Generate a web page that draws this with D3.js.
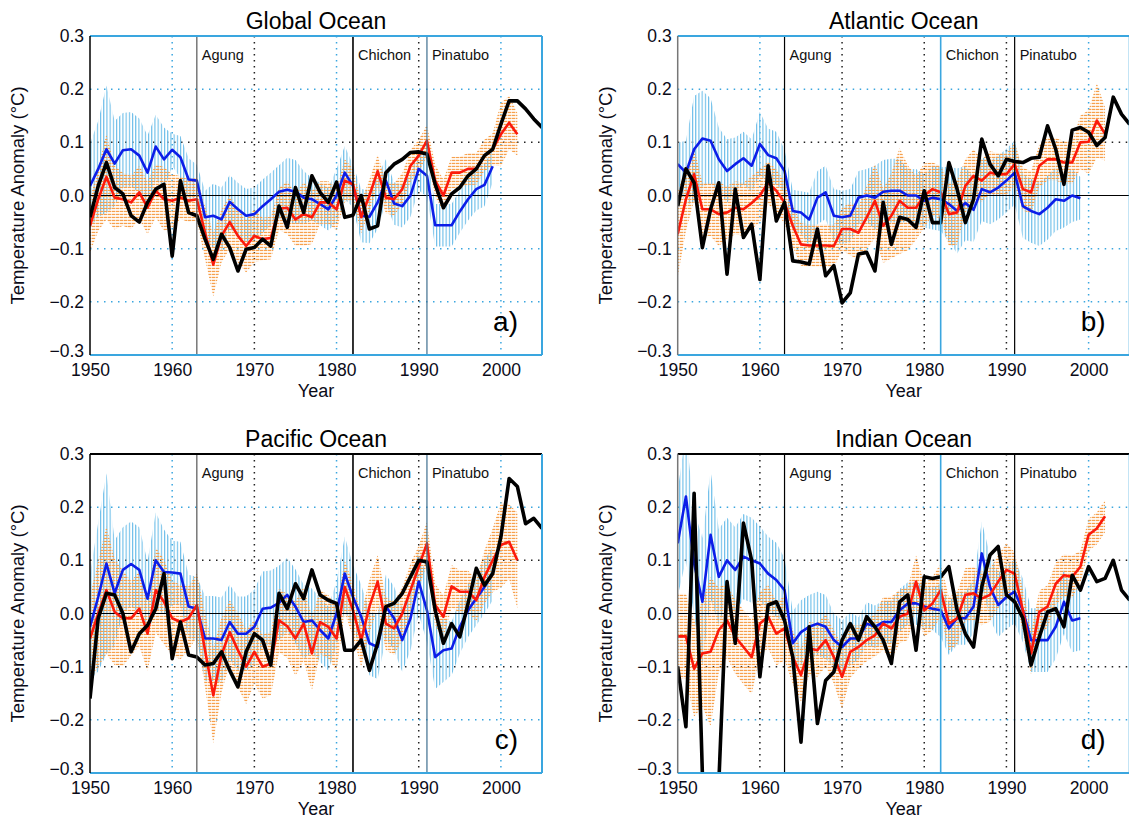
<!DOCTYPE html>
<html><head><meta charset="utf-8">
<script src="https://cdn.jsdelivr.net/npm/d3@7"></script>
<style>
body{margin:0;background:#fff}
svg{display:block}
text{font-family:"Liberation Sans",Arial,Helvetica,sans-serif}
</style>
</head><body>
<svg id="chart" width="1129" height="818"></svg>
<script>
// ---------------- DATA ----------------
const firstYear = 1950;
const xTicks = [1950, 1960, 1970, 1980, 1990, 2000];
const yTicks = [-0.3, -0.2, -0.1, 0, 0.1, 0.2, 0.3];
const yTickLabels = ["\u22120.3", "\u22120.2", "\u22120.1", "0.0", "0.1", "0.2", "0.3"];
const gridYears = [1960, 1970, 1980, 1990, 2000];
const gridValues = [-0.2, -0.1, 0.1, 0.2];
const volcanoNames = ["Agung", "Chichon", "Pinatubo"];
const volcanoYears = [1963, 1982, 1991];
const panelTitles = ["Global Ocean", "Atlantic Ocean", "Pacific Ocean", "Indian Ocean"];
const panelLetters = ["a)", "b)", "c)", "d)"];

// Global (1950-1999 blue, 1950-2002 red, 1950-2005 black)
const globalBlue = [0.018,0.05,0.087,0.06,0.085,0.087,0.075,0.043,0.092,0.068,
 0.086,0.072,0.03,0.028,-0.041,-0.038,-0.045,-0.012,-0.026,-0.038,
 -0.035,-0.02,-0.007,0.007,0.011,0.007,-0.004,-0.007,-0.016,-0.026,
 0.0,0.043,0.018,-0.038,-0.04,-0.013,0.028,-0.015,-0.02,0.0,
 0.05,0.037,-0.056,-0.056,-0.056,-0.03,-0.007,0.012,0.02,0.055];
const globalBlueErr = [0.08,0.09,0.12,0.08,0.07,0.07,0.07,0.07,0.06,0.06,
 0.03,0.04,0.04,0.03,0.05,0.06,0.06,0.05,0.05,0.05,
 0.05,0.05,0.05,0.05,0.06,0.06,0.05,0.04,0.04,0.04,
 0.05,0.05,0.04,0.05,0.05,0.05,0.04,0.04,0.04,0.04,
 0.04,0.04,0.04,0.04,0.04,0.04,0.04,0.04,0.04,0.03];
const globalRed = [-0.057,-0.007,0.035,-0.004,-0.007,-0.013,0.006,-0.023,0.009,-0.007,
 -0.01,-0.004,-0.01,-0.007,-0.07,-0.13,-0.076,-0.05,-0.076,-0.095,
 -0.076,-0.082,-0.08,-0.025,-0.023,-0.045,-0.035,-0.041,-0.013,-0.013,
 -0.026,0.028,0.021,-0.041,0.0,0.046,-0.004,-0.007,0.012,0.056,
 0.075,0.103,0.028,0.0,0.043,0.043,0.05,0.05,0.075,0.087,
 0.115,0.137,0.115];
const globalRedErr = [0.05,0.06,0.08,0.06,0.05,0.05,0.05,0.05,0.05,0.06,
 0.05,0.04,0.04,0.04,0.05,0.06,0.05,0.05,0.05,0.05,
 0.05,0.04,0.04,0.04,0.05,0.05,0.06,0.05,0.04,0.04,
 0.04,0.04,0.03,0.03,0.03,0.03,0.03,0.03,0.03,0.03,
 0.03,0.03,0.03,0.03,0.03,0.03,0.03,0.03,0.03,0.03,
 0.06,0.05,0.04];
const globalBlack = [-0.041,0.018,0.062,0.015,0.003,-0.038,-0.05,-0.013,0.012,0.021,
 -0.114,0.028,-0.032,-0.038,-0.082,-0.12,-0.073,-0.098,-0.142,-0.101,
 -0.098,-0.082,-0.095,-0.02,-0.06,0.015,-0.032,0.037,0.006,-0.013,
 0.025,-0.041,-0.037,0.0,-0.063,-0.057,0.043,0.059,0.068,0.081,
 0.082,0.078,0.021,-0.023,0.003,0.015,0.037,0.05,0.075,0.087,
 0.134,0.178,0.178,0.163,0.144,0.128];

// Atlantic
const atlanticBlue = [0.059,0.043,0.087,0.107,0.103,0.068,0.046,0.059,0.07,0.056,
 0.097,0.076,0.07,0.046,-0.029,-0.032,-0.045,-0.004,0.006,-0.038,
 -0.041,-0.038,-0.004,0.0,-0.004,0.007,0.009,0.009,0.0,0.0,
 -0.01,-0.004,-0.007,-0.016,-0.029,-0.014,-0.027,0.012,0.006,0.015,
 0.028,0.043,-0.02,-0.029,-0.035,-0.023,-0.007,-0.01,0.0,-0.005];
const atlanticBlueErr = [0.04,0.06,0.1,0.09,0.08,0.06,0.06,0.05,0.05,0.05,
 0.06,0.05,0.05,0.04,0.04,0.04,0.05,0.05,0.05,0.05,
 0.05,0.05,0.05,0.05,0.06,0.06,0.06,0.06,0.05,0.05,
 0.05,0.06,0.06,0.07,0.08,0.07,0.06,0.06,0.06,0.06,
 0.06,0.06,0.06,0.06,0.06,0.06,0.06,0.05,0.05,0.04];
const atlanticRed = [-0.073,-0.007,0.04,-0.026,-0.026,-0.035,-0.032,-0.023,-0.026,-0.014,
 0.0,0.024,0.009,-0.013,-0.057,-0.092,-0.094,-0.094,-0.094,-0.095,
 -0.063,-0.063,-0.07,-0.041,-0.01,-0.057,-0.038,-0.01,-0.023,-0.023,
 0.0,0.012,0.006,-0.035,-0.032,0.018,0.037,0.028,0.043,0.04,
 0.04,0.059,0.012,0.006,0.056,0.068,0.068,0.062,0.062,0.1,
 0.101,0.141,0.116];
const atlanticRedErr = [0.08,0.06,0.05,0.05,0.05,0.06,0.05,0.05,0.05,0.05,
 0.05,0.04,0.04,0.04,0.04,0.04,0.04,0.04,0.04,0.04,
 0.04,0.05,0.05,0.06,0.07,0.07,0.08,0.1,0.08,0.06,
 0.06,0.05,0.05,0.06,0.06,0.05,0.05,0.04,0.04,0.04,
 0.04,0.04,0.04,0.04,0.04,0.04,0.04,0.04,0.04,0.05,
 0.06,0.07,0.05];
const atlanticBlack = [-0.02,0.05,0.024,-0.098,-0.026,0.024,-0.148,0.012,-0.079,-0.054,
 -0.158,0.056,-0.048,-0.013,-0.123,-0.125,-0.129,-0.063,-0.151,-0.132,
 -0.202,-0.183,-0.11,-0.107,-0.142,-0.013,-0.092,-0.041,-0.045,-0.06,
 0.009,-0.051,-0.051,0.062,0.012,-0.051,-0.007,0.106,0.059,0.037,
 0.068,0.064,0.062,0.07,0.072,0.131,0.087,0.021,0.123,0.128,
 0.119,0.094,0.109,0.185,0.153,0.134];

// Pacific
const pacificBlue = [-0.025,0.031,0.094,0.038,0.082,0.093,0.082,0.028,0.1,0.078,
 0.077,0.075,0.013,0.009,-0.047,-0.047,-0.05,-0.016,-0.038,-0.038,
 -0.025,0.009,0.011,0.02,0.035,0.013,-0.016,-0.013,-0.031,-0.047,
 0.0,0.075,0.031,-0.006,-0.056,-0.063,0.013,-0.009,-0.05,-0.009,
 0.06,0.006,-0.082,-0.069,-0.066,-0.025,0.006,0.028,0.05,0.075];
const pacificBlueErr = [0.1,0.14,0.17,0.1,0.08,0.08,0.08,0.07,0.09,0.08,
 0.06,0.06,0.06,0.06,0.08,0.08,0.08,0.07,0.07,0.07,
 0.07,0.07,0.07,0.07,0.07,0.07,0.07,0.06,0.06,0.06,
 0.06,0.07,0.06,0.06,0.06,0.06,0.06,0.06,0.06,0.06,
 0.06,0.06,0.06,0.06,0.05,0.05,0.05,0.05,0.05,0.05];
const pacificRed = [-0.047,0.0,0.044,0.003,-0.009,-0.009,0.009,-0.038,0.044,0.022,
 -0.009,-0.016,-0.009,0.016,-0.069,-0.154,-0.078,-0.035,-0.069,-0.1,
 -0.072,-0.1,-0.094,-0.013,-0.024,-0.047,-0.019,-0.075,-0.016,-0.025,
 -0.047,0.05,0.006,-0.05,0.013,0.06,-0.019,-0.028,0.0,0.044,
 0.088,0.132,0.016,-0.006,0.051,0.041,0.041,0.025,0.069,0.1,
 0.129,0.135,0.1];
const pacificRedErr = [0.08,0.1,0.12,0.1,0.09,0.07,0.07,0.07,0.08,0.08,
 0.07,0.07,0.06,0.06,0.07,0.09,0.07,0.06,0.07,0.07,
 0.06,0.06,0.06,0.06,0.06,0.07,0.07,0.07,0.06,0.06,
 0.06,0.05,0.05,0.05,0.05,0.05,0.05,0.05,0.05,0.05,
 0.04,0.04,0.04,0.04,0.04,0.04,0.04,0.04,0.05,0.06,
 0.08,0.07,0.09];
const pacificBlack = [-0.16,-0.009,0.038,0.035,0.0,-0.072,-0.038,-0.022,0.009,0.075,
 -0.085,-0.016,-0.078,-0.082,-0.097,-0.094,-0.072,-0.107,-0.138,-0.072,
 -0.038,-0.05,-0.097,0.038,0.009,0.056,0.028,0.082,0.035,0.025,
 0.019,-0.069,-0.069,-0.05,-0.107,-0.056,0.013,0.019,0.038,0.069,
 0.1,0.097,0.006,-0.056,-0.019,-0.044,0.019,0.085,0.053,0.075,
 0.144,0.254,0.239,0.169,0.179,0.16];

// Indian
const indianBlue = [0.132,0.22,0.094,0.022,0.148,0.069,0.1,0.082,0.107,0.1,
 0.094,0.075,0.063,0.044,-0.056,-0.035,-0.025,-0.019,-0.025,-0.05,
 -0.063,-0.047,-0.047,-0.019,-0.025,-0.016,-0.016,0.006,0.019,0.019,
 0.013,0.009,0.006,-0.028,-0.009,-0.009,0.013,0.113,0.05,0.016,
 0.031,0.041,0.006,-0.05,-0.05,-0.05,-0.025,0.022,-0.013,-0.009];
const indianBlueErr = [0.1,0.12,0.1,0.12,0.12,0.09,0.08,0.08,0.08,0.08,
 0.07,0.07,0.07,0.06,0.06,0.06,0.06,0.06,0.06,0.05,
 0.05,0.05,0.04,0.04,0.04,0.04,0.04,0.04,0.04,0.04,
 0.04,0.04,0.05,0.05,0.05,0.05,0.05,0.06,0.06,0.06,
 0.06,0.06,0.06,0.06,0.06,0.06,0.06,0.06,0.06,0.06];
const indianRed = [-0.043,-0.043,-0.104,-0.075,-0.072,-0.031,-0.013,-0.044,-0.063,-0.082,
 -0.019,-0.006,-0.038,-0.028,-0.082,-0.116,-0.066,-0.069,-0.05,-0.082,
 -0.119,-0.072,-0.063,-0.05,-0.041,-0.019,-0.028,-0.006,0.0,0.06,
 0.006,0.019,0.044,-0.019,-0.009,0.035,0.038,0.028,0.035,0.06,
 0.082,0.075,0.006,-0.075,0.003,0.013,0.056,0.072,0.069,0.088,
 0.148,0.16,0.183];
const indianRedErr = [0.08,0.08,0.09,0.1,0.14,0.08,0.07,0.07,0.07,0.07,
 0.06,0.06,0.06,0.06,0.05,0.05,0.05,0.05,0.05,0.05,
 0.06,0.05,0.04,0.04,0.04,0.05,0.06,0.05,0.05,0.05,
 0.05,0.05,0.05,0.05,0.05,0.05,0.05,0.05,0.05,0.05,
 0.05,0.04,0.04,0.04,0.04,0.04,0.04,0.04,0.04,0.03,
 0.03,0.03,0.03];
const indianBlack = [-0.1,-0.213,0.226,-0.3,-0.5,-0.32,0.06,-0.056,0.17,0.1,
 -0.119,0.016,0.022,-0.013,-0.082,-0.242,-0.025,-0.207,-0.126,-0.11,
 -0.05,-0.019,-0.05,-0.006,-0.025,-0.05,-0.094,0.022,0.035,-0.069,
 0.069,0.066,0.069,0.088,0.006,-0.038,-0.063,0.05,0.11,0.126,
 0.035,0.022,-0.009,-0.097,-0.044,0.003,0.009,-0.025,0.072,0.044,
 0.088,0.06,0.066,0.1,0.044,0.025];

// ---------------- LAYOUT / STYLE ----------------
const BLUE_AX = "#3aa6df";
const panels = [
  {blue: globalBlue, blueErr: globalBlueErr, red: globalRed, redErr: globalRedErr, black: globalBlack,
   left: 90, top: 36, width: 452, height: 319,
   frame: {top: BLUE_AX, right: BLUE_AX, bottom: BLUE_AX, left: "#000"},
   gridX: ["b","k","b","k","b"], gridY: ["b","b","k","b"],
   volc: ["#555", "#000", "#3d6e8e"]},
  {blue: atlanticBlue, blueErr: atlanticBlueErr, red: atlanticRed, redErr: atlanticRedErr, black: atlanticBlack,
   left: 677.7, top: 36, width: 452, height: 319,
   frame: {top: BLUE_AX, right: BLUE_AX, bottom: BLUE_AX, left: "#777"},
   gridX: ["b","k","k","k","b"], gridY: ["b","b","k","b"],
   volc: ["#000", BLUE_AX, "#000"]},
  {blue: pacificBlue, blueErr: pacificBlueErr, red: pacificRed, redErr: pacificRedErr, black: pacificBlack,
   left: 90, top: 454, width: 452, height: 319,
   frame: {top: "#000", right: BLUE_AX, bottom: BLUE_AX, left: "#000"},
   gridX: ["b","k","b","k","b"], gridY: ["b","k","k","b"],
   volc: ["#555", "#000", "#3d6e8e"]},
  {blue: indianBlue, blueErr: indianBlueErr, red: indianRed, redErr: indianRedErr, black: indianBlack,
   left: 677.7, top: 454, width: 452, height: 319,
   frame: {top: "#000", right: BLUE_AX, bottom: BLUE_AX, left: "#777"},
   gridX: ["k","k","k","k","b"], gridY: ["b","k","k","b"],
   volc: ["#000", BLUE_AX, "#000"]}
];

const svg = d3.select("#chart");
const defs = svg.append("defs");
const hH = defs.append("pattern").attr("id", "hatchH").attr("patternUnits", "userSpaceOnUse")
  .attr("width", 4).attr("height", 3);
hH.append("rect").attr("x", 0).attr("y", 0.8).attr("width", 3.4).attr("height", 1.3).attr("fill", "#f6a04c");
const hV = defs.append("pattern").attr("id", "hatchV").attr("patternUnits", "userSpaceOnUse")
  .attr("width", 3.2).attr("height", 4);
hV.append("rect").attr("x", 0.8).attr("y", 0).attr("width", 1.1).attr("height", 4).attr("fill", "#68bbe8");

const gridColor = {b: "#3aa6df", k: "#222"};

panels.forEach((p, i) => {
  const x = d3.scaleLinear().domain([1950, 2005]).range([p.left, p.left + p.width]);
  const y = d3.scaleLinear().domain([-0.3, 0.3]).range([p.top + p.height, p.top]);
  const g = svg.append("g");
  const clipId = "clip" + i;
  defs.append("clipPath").attr("id", clipId).append("rect")
    .attr("x", p.left).attr("y", p.top).attr("width", p.width).attr("height", p.height);

  // grid
  gridYears.forEach((yr, k) => {
    g.append("line").attr("x1", x(yr)).attr("x2", x(yr)).attr("y1", p.top).attr("y2", p.top + p.height)
      .attr("stroke", gridColor[p.gridX[k]]).attr("stroke-width", 1.5).attr("stroke-dasharray", "1.5,4.5");
  });
  gridValues.forEach((v, k) => {
    g.append("line").attr("x1", p.left).attr("x2", p.left + p.width).attr("y1", y(v)).attr("y2", y(v))
      .attr("stroke", gridColor[p.gridY[k]]).attr("stroke-width", 1.5).attr("stroke-dasharray", "1.5,5.5");
  });

  const plot = g.append("g").attr("clip-path", `url(#${clipId})`);
  const yr = (d, k) => x(firstYear + k);

  // uncertainty hatches
  const area = (vals, errs) => d3.area().x((d, k) => yr(d, k))
    .y0((d, k) => y(vals[k] - errs[k])).y1((d, k) => y(vals[k] + errs[k]))(vals);
  plot.append("path").attr("d", area(p.blue, p.blueErr)).attr("fill", "url(#hatchV)");
  plot.append("path").attr("d", area(p.red, p.redErr)).attr("fill", "url(#hatchH)");

  // zero line
  plot.append("line").attr("x1", p.left).attr("x2", p.left + p.width).attr("y1", y(0)).attr("y2", y(0))
    .attr("stroke", "#000").attr("stroke-width", 1);

  // volcano lines
  volcanoYears.forEach((vy, k) => {
    g.append("line").attr("x1", x(vy)).attr("x2", x(vy)).attr("y1", p.top).attr("y2", p.top + p.height)
      .attr("stroke", p.volc[k]).attr("stroke-width", k === 1 ? 1.6 : 1.2);
    g.append("text").attr("x", x(vy) + 5).attr("y", p.top + 24).attr("font-size", 14.5)
      .attr("fill", "#111").text(volcanoNames[k]);
  });

  // series lines
  const line = d3.line().x((d, k) => yr(d, k)).y(d => y(d));
  plot.append("path").attr("d", line(p.blue)).attr("fill", "none").attr("stroke", "#0c1ee8")
    .attr("stroke-width", 2.6).attr("stroke-linejoin", "round");
  plot.append("path").attr("d", line(p.red)).attr("fill", "none").attr("stroke", "#fb1a0c")
    .attr("stroke-width", 2.6).attr("stroke-linejoin", "round");
  plot.append("path").attr("d", line(p.black)).attr("fill", "none").attr("stroke", "#000")
    .attr("stroke-width", 3.6).attr("stroke-linejoin", "round");

  // frame
  const L = p.left, R = p.left + p.width, T = p.top, B = p.top + p.height;
  g.append("line").attr("x1", L).attr("x2", R).attr("y1", T).attr("y2", T).attr("stroke", p.frame.top).attr("stroke-width", 2);
  g.append("line").attr("x1", R).attr("x2", R).attr("y1", T).attr("y2", B).attr("stroke", p.frame.right).attr("stroke-width", 2);
  g.append("line").attr("x1", L).attr("x2", R).attr("y1", B).attr("y2", B).attr("stroke", p.frame.bottom).attr("stroke-width", 2);
  g.append("line").attr("x1", L).attr("x2", L).attr("y1", T).attr("y2", B).attr("stroke", p.frame.left).attr("stroke-width", 1.5);

  // axes (labels only)
  const ax = g.append("g").attr("transform", `translate(0,${B})`)
    .call(d3.axisBottom(x).tickValues(xTicks).tickSize(0).tickPadding(9).tickFormat(d3.format("d")));
  const ay = g.append("g").attr("transform", `translate(${L},0)`)
    .call(d3.axisLeft(y).tickValues(yTicks).tickSize(0).tickPadding(6)
      .tickFormat((d, k) => yTickLabels[k]));
  [ax, ay].forEach(a => {
    a.select(".domain").remove();
    a.selectAll("text").attr("font-size", 17.5).attr("fill", "#0b0b18")
      .style("font-family", '"Liberation Sans",Arial,sans-serif');
  });
  ay.selectAll(".tick").filter(d => d === -0.3).select("text").attr("dy", "0.1em");

  // titles
  g.append("text").attr("x", (L + R) / 2).attr("y", T - 7).attr("text-anchor", "middle")
    .attr("font-size", 23).attr("fill", "#000").text(panelTitles[i]);
  g.append("text").attr("x", (L + R) / 2).attr("y", B + 42).attr("text-anchor", "middle")
    .attr("font-size", 18).attr("fill", "#0b0b18").text("Year");
  g.append("text").attr("transform", `translate(${L - 66},${(T + B) / 2}) rotate(-90)`)
    .attr("text-anchor", "middle").attr("font-size", 18.5).attr("fill", "#0b0b18")
    .text("Temperature Anomaly (\u00B0C)");
  g.append("text").attr("x", R - 24).attr("y", B - 24).attr("text-anchor", "end")
    .attr("font-size", 28).attr("fill", "#000").text(panelLetters[i]);
});
</script>
</body></html>
